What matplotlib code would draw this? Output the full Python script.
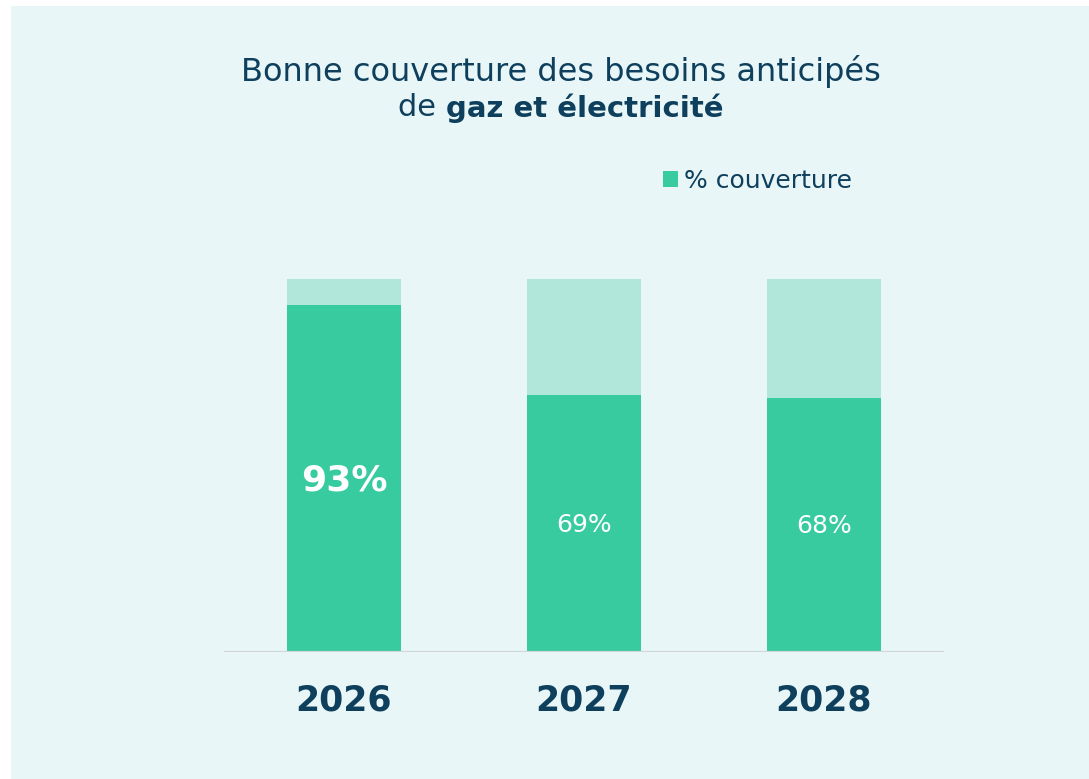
import matplotlib
matplotlib.use("Agg")
import matplotlib.pyplot as plt
from matplotlib.patches import Patch, Rectangle

# ========= Donnees ========= #

annees = ["2026", "2027", "2028"]
couverture = [93, 69, 68]
total = [100, 100, 100]
etiquettes = ["93%", "69%", "68%"]

# ========= Couleurs ========= #

fond = "#e8f6f7"
vert = "#38cba0"
vert_clair = "#b0e7da"
bleu = "#0e3f5c"
police = "DejaVu Sans"

W, H = 1089, 779
fig = plt.figure(figsize=(W / 100, H / 100), dpi=100, facecolor="white")
fig.patches.append(Rectangle((11 / W, 0), 1, 1 - 6 / H, transform=fig.transFigure,
                             facecolor=fond, edgecolor="none", zorder=-5))

ax = fig.add_axes([224 / W, 1 - 652 / H, 720 / W, 373 / H])
ax.set_facecolor("none")
ax.set_zorder(2)

x = list(range(len(annees)))
ax.bar(x, total, width=0.475, color=vert_clair, zorder=2)
ax.bar(x, couverture, width=0.475, color=vert, zorder=3)

# etiquettes au milieu de chaque barre
for i, (v, lab) in enumerate(zip(couverture, etiquettes)):
    if i == 0:
        ax.text(i, v * 0.494, lab, ha="center", va="center", color="white",
                fontsize=26, fontweight="bold", family=police, zorder=4)
    else:
        ax.text(i, v * 0.495, lab, ha="center", va="center", color="white",
                fontsize=18, family=police, zorder=4)

ax.axhline(0, color="#d3d6d8", lw=1.6, zorder=5)
ax.set_xlim(-0.5, 2.5)
ax.set_ylim(0, 100)
ax.set_yticks([])
ax.set_xticks(x)
ax.set_xticklabels(annees, fontsize=25, fontweight="bold", color=bleu, family=police)
ax.tick_params(axis="x", length=0, pad=23)
for s in ax.spines.values():
    s.set_visible(False)

# legende
ax.legend(handles=[Patch(facecolor=vert, edgecolor="none", label="% couverture")],
          loc="center left", bbox_to_anchor=(663 / W, 1 - 181 / H),
          bbox_transform=fig.transFigure, frameon=False, borderpad=0,
          borderaxespad=0, handlelength=0.6, handleheight=0.6, handletextpad=0.25,
          prop={"family": police, "size": 18}, labelcolor=bleu)

# titre
fig.text(561 / W, 1 - 72 / H, "Bonne couverture des besoins anticipés",
         ha="center", va="center", fontsize=23, color=bleu, family=police)
t1 = fig.text(0, 1 - 108 / H, "de ", ha="left", va="center", fontsize=22,
              color=bleu, family=police)
t2 = fig.text(0, 1 - 108 / H, "gaz et électricité", ha="left", va="center",
              fontsize=21, fontweight="bold", color=bleu, family=police)
fig.canvas.draw()
r = fig.canvas.get_renderer()
w1 = t1.get_window_extent(r).width
w2 = t2.get_window_extent(r).width
x0 = 561 - (w1 + w2) / 2
t1.set_x(x0 / W)
t2.set_x((x0 + w1) / W)

fig.savefig("out.png", dpi=100, facecolor="white")
